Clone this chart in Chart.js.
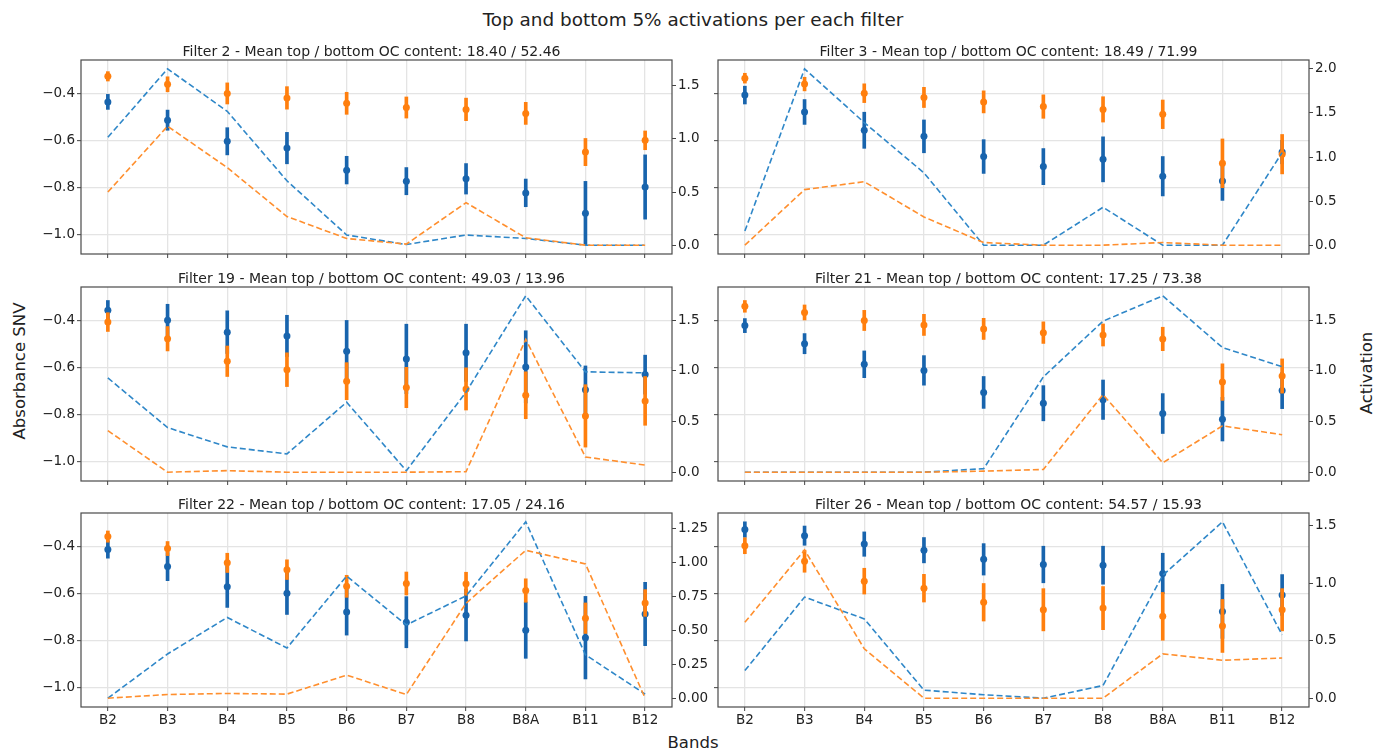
<!DOCTYPE html>
<html>
<head>
<meta charset="utf-8">
<script src="https://cdn.jsdelivr.net/npm/chart.js@4.4.1/dist/chart.umd.min.js"></script>
<style>
  body { margin: 0; background: #fff; width: 1386px; height: 754px; position: relative; overflow: hidden;
         font-family: "DejaVu Sans", sans-serif; color: #222; }
  canvas { position: absolute; }
  .lbl { position: absolute; white-space: nowrap; line-height: 1; }
</style>
</head>
<body>
<div class="lbl" style="left:0;width:1386px;top:11px;text-align:center;font-size:18.4px;">Top and bottom 5% activations per each filter</div>
<div class="lbl" style="left:0;width:1386px;top:735px;text-align:center;font-size:16.5px;">Bands</div>
<div class="lbl" style="left:20px;top:371px;transform:translate(-50%,-50%) rotate(-90deg);font-size:16.5px;">Absorbance SNV</div>
<div class="lbl" style="left:1367px;top:373px;transform:translate(-50%,-50%) rotate(-90deg);font-size:16.5px;">Activation</div>
<script>
// bandas do Sentinel-2 (eixo x)
const bands = ['B2', 'B3', 'B4', 'B5', 'B6', 'B7', 'B8', 'B8A', 'B11', 'B12'];

// filtros e conteúdo médio de OC (top / bottom)
const filters = [2, 3, 19, 21, 22, 26];
const topOC = ['18.40', '18.49', '49.03', '17.25', '17.05', '54.57'];
const bottomOC = ['52.46', '71.99', '13.96', '73.38', '24.16', '15.93'];

// absorbância SNV média (top 5%) e barra de erro, uma linha por filtro
const topMean = [
  [-0.436, -0.514, -0.604, -0.633, -0.727, -0.774, -0.764, -0.824, -0.911, -0.799],
  [-0.407, -0.479, -0.557, -0.583, -0.669, -0.712, -0.681, -0.753, -0.773, -0.650],
  [-0.357, -0.399, -0.450, -0.466, -0.531, -0.564, -0.538, -0.598, -0.696, -0.631],
  [-0.422, -0.499, -0.587, -0.613, -0.707, -0.753, -0.738, -0.797, -0.821, -0.699],
  [-0.413, -0.486, -0.572, -0.600, -0.680, -0.723, -0.693, -0.757, -0.789, -0.688],
  [-0.328, -0.354, -0.390, -0.416, -0.455, -0.477, -0.480, -0.515, -0.677, -0.607]
];
const topErr = [
  [0.032, 0.043, 0.058, 0.067, 0.059, 0.058, 0.065, 0.059, 0.136, 0.137],
  [0.038, 0.053, 0.077, 0.070, 0.072, 0.077, 0.096, 0.084, 0.083, 0.050],
  [0.042, 0.068, 0.091, 0.088, 0.131, 0.148, 0.122, 0.154, 0.102, 0.083],
  [0.030, 0.043, 0.057, 0.063, 0.068, 0.075, 0.084, 0.085, 0.093, 0.077],
  [0.037, 0.060, 0.088, 0.090, 0.098, 0.109, 0.110, 0.120, 0.176, 0.135],
  [0.033, 0.041, 0.052, 0.054, 0.067, 0.078, 0.081, 0.086, 0.115, 0.087]
];

// absorbância SNV média (bottom 5%) e barra de erro
const bottomMean = [
  [-0.327, -0.361, -0.400, -0.419, -0.442, -0.460, -0.468, -0.485, -0.650, -0.600],
  [-0.335, -0.360, -0.399, -0.417, -0.436, -0.456, -0.468, -0.489, -0.698, -0.659],
  [-0.407, -0.478, -0.574, -0.610, -0.659, -0.686, -0.692, -0.719, -0.807, -0.743],
  [-0.340, -0.366, -0.400, -0.419, -0.436, -0.452, -0.462, -0.479, -0.663, -0.637],
  [-0.358, -0.409, -0.470, -0.499, -0.570, -0.558, -0.559, -0.588, -0.706, -0.641],
  [-0.397, -0.463, -0.548, -0.578, -0.638, -0.670, -0.663, -0.698, -0.739, -0.670]
];
const bottomErr = [
  [0.020, 0.032, 0.045, 0.048, 0.047, 0.045, 0.048, 0.047, 0.058, 0.040],
  [0.021, 0.029, 0.040, 0.043, 0.047, 0.050, 0.054, 0.061, 0.104, 0.084],
  [0.040, 0.052, 0.065, 0.072, 0.079, 0.086, 0.090, 0.100, 0.133, 0.104],
  [0.025, 0.032, 0.043, 0.045, 0.045, 0.046, 0.047, 0.050, 0.078, 0.073],
  [0.024, 0.030, 0.041, 0.042, 0.047, 0.049, 0.049, 0.050, 0.065, 0.057],
  [0.034, 0.047, 0.055, 0.059, 0.080, 0.090, 0.092, 0.102, 0.113, 0.090]
];

// ativação média do filtro (eixo da direita, linhas tracejadas)
const topAct = [
  [1.015, 1.66, 1.26, 0.606, 0.096, 0.006, 0.096, 0.063, 0.0, 0.0],
  [0.16, 2.0, 1.39, 0.82, 0.0, 0.0, 0.43, 0.0, 0.0, 1.05],
  [0.93, 0.44, 0.25, 0.18, 0.69, 0.015, 0.79, 1.74, 0.99, 0.98],
  [0.0, 0.0, 0.0, 0.0, 0.035, 0.94, 1.49, 1.74, 1.23, 1.04],
  [0.0, 0.326, 0.595, 0.37, 0.90, 0.54, 0.754, 1.30, 0.32, 0.03],
  [0.24, 0.88, 0.69, 0.07, 0.03, 0.0, 0.11, 1.07, 1.535, 0.55]
];
const bottomAct = [
  [0.50, 1.12, 0.73, 0.27, 0.063, 0.01, 0.40, 0.07, 0.0, 0.0],
  [0.0, 0.63, 0.72, 0.32, 0.03, 0.0, 0.0, 0.03, 0.0, 0.0],
  [0.41, 0.0, 0.015, 0.0, 0.0, 0.0, 0.005, 1.31, 0.15, 0.07],
  [0.0, 0.0, 0.0, 0.0, 0.01, 0.027, 0.765, 0.093, 0.457, 0.37],
  [0.0, 0.027, 0.035, 0.03, 0.17, 0.027, 0.70, 1.09, 0.99, 0.0],
  [0.66, 1.29, 0.43, 0.0, 0.0, 0.0, 0.0, 0.386, 0.33, 0.35]
];

// marcas dos eixos
const absTicks = [-1.0, -0.8, -0.6, -0.4];
const actTicks = [
  [0, 0.5, 1.0, 1.5],
  [0, 0.5, 1.0, 1.5, 2.0],
  [0, 0.5, 1.0, 1.5],
  [0, 0.5, 1.0, 1.5],
  [0, 0.25, 0.5, 0.75, 1.0, 1.25],
  [0, 0.5, 1.0, 1.5]
];
const actDecimals = [1, 1, 1, 1, 2, 1];

// cores
const blue = '#1864ad', blueLine = '#2f87c8';
const orange = '#ff7f0e', orangeLine = '#ff8f2e';
const fontFam = '"DejaVu Sans", sans-serif';

// limites com margem de 5%, como no matplotlib
function withMargin(lo, hi) {
  const r = hi - lo;
  return [lo - 0.05 * r, hi + 0.05 * r];
}
let absLo = Infinity, absHi = -Infinity;
for (let f = 0; f < filters.length; f++) {
  for (let k = 0; k < bands.length; k++) {
    absLo = Math.min(absLo, topMean[f][k] - topErr[f][k], bottomMean[f][k] - bottomErr[f][k]);
    absHi = Math.max(absHi, topMean[f][k] + topErr[f][k], bottomMean[f][k] + bottomErr[f][k]);
  }
}
const absRange = withMargin(absLo, absHi);

// desenha a moldura do gráfico
const framePlugin = {
  id: 'frame',
  afterDraw(chart) {
    const a = chart.chartArea, c = chart.ctx;
    c.save();
    c.strokeStyle = '#4a4a4a';
    c.lineWidth = 1.2;
    c.strokeRect(a.left, a.top, a.right - a.left, a.bottom - a.top);
    c.restore();
  }
};

const minus = v => (v < 0 ? '\u2212' : '') + Math.abs(v).toFixed(1);

const plotLeft = [81, 718];
const plotTop = [60, 287, 513];
const plotW = 591, plotH = 194;
const padL = 62, padR = 52, padT = 27;

filters.forEach(function (filt, f) {
  const row = Math.floor(f / 2), col = f % 2;
  const padB = row === 2 ? 30 : 14;

  const cv = document.createElement('canvas');
  cv.width = padL + plotW + padR;
  cv.height = padT + plotH + padB;
  cv.style.left = (plotLeft[col] - padL) + 'px';
  cv.style.top = (plotTop[row] - padT) + 'px';
  document.body.appendChild(cv);

  const actRange = withMargin(
    Math.min(...topAct[f], ...bottomAct[f]),
    Math.max(...topAct[f], ...bottomAct[f]));

  const pts = arr => arr.map((v, k) => ({ x: k, y: v }));
  const bars = (m, e) => m.map((v, k) => ({ x: k, y: [v - e[k], v + e[k]] }));

  new Chart(cv, {
    type: 'bar',
    data: {
      datasets: [
        { type: 'line', data: pts(topAct[f]), yAxisID: 'y1', borderColor: blueLine, borderWidth: 1.6,
          borderDash: [6, 3], pointRadius: 0, fill: false, tension: 0, order: 1 },
        { type: 'line', data: pts(bottomAct[f]), yAxisID: 'y1', borderColor: orangeLine, borderWidth: 1.6,
          borderDash: [6, 3], pointRadius: 0, fill: false, tension: 0, order: 0 },
        { type: 'line', data: pts(bottomMean[f]), yAxisID: 'y', showLine: false, pointRadius: 3.5,
          pointBorderWidth: 0, pointBackgroundColor: orange, order: 2 },
        { type: 'bar', data: bars(bottomMean[f], bottomErr[f]), yAxisID: 'y', backgroundColor: orange,
          barThickness: 3, grouped: false, order: 3 },
        { type: 'line', data: pts(topMean[f]), yAxisID: 'y', showLine: false, pointRadius: 3.5,
          pointBorderWidth: 0, pointBackgroundColor: blue, order: 4 },
        { type: 'bar', data: bars(topMean[f], topErr[f]), yAxisID: 'y', backgroundColor: blue,
          barThickness: 3, grouped: false, order: 5 }
      ]
    },
    options: {
      responsive: false,
      animation: false,
      layout: { padding: 0 },
      plugins: {
        legend: { display: false },
        tooltip: { enabled: false },
        title: {
          display: true,
          text: 'Filter ' + filt + ' - Mean top / bottom OC content: ' + topOC[f] + ' / ' + bottomOC[f],
          color: '#222',
          font: { family: fontFam, size: 14, weight: 'normal', lineHeight: 1 },
          padding: { top: 12, bottom: 1 }
        }
      },
      scales: {
        x: {
          type: 'linear', min: -0.45, max: 9.45, offset: false,
          afterBuildTicks: s => { s.ticks = bands.map((b, k) => ({ value: k })); },
          afterFit: s => { s.height = padB; },
          ticks: { display: row === 2, autoSkip: false, maxRotation: 0, padding: 1, color: '#222',
                   font: { family: fontFam, size: 13.5 }, callback: v => bands[v] },
          grid: { offset: false, color: '#e4e4e4', lineWidth: 1.3, tickLength: 4, tickColor: '#444', tickWidth: 1 },
          border: { display: false }
        },
        y: {
          position: 'left', min: absRange[0], max: absRange[1], beginAtZero: false,
          afterBuildTicks: s => { s.ticks = absTicks.map(v => ({ value: v })); },
          afterFit: s => { s.width = padL; },
          ticks: { display: col === 0, padding: 2, color: '#222', font: { family: fontFam, size: 13.5 },
                   callback: v => minus(v) },
          grid: { color: '#e4e4e4', lineWidth: 1.3, tickLength: 4, tickColor: '#444', tickWidth: 1 },
          border: { display: false }
        },
        y1: {
          position: 'right', min: actRange[0], max: actRange[1],
          afterBuildTicks: s => { s.ticks = actTicks[f].map(v => ({ value: v })); },
          afterFit: s => { s.width = padR; },
          ticks: { padding: 2, color: '#222', font: { family: fontFam, size: 13.5 },
                   callback: v => v.toFixed(actDecimals[f]) },
          grid: { drawOnChartArea: false, tickLength: 4, tickColor: '#444', tickWidth: 1 },
          border: { display: false }
        }
      }
    },
    plugins: [framePlugin]
  });
});
</script>
</body>
</html>
